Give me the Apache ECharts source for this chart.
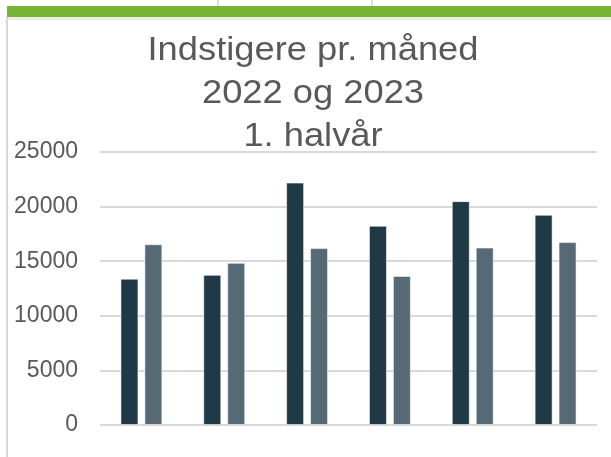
<!DOCTYPE html>
<html>
<head>
<meta charset="utf-8">
<script src="https://cdn.jsdelivr.net/npm/echarts@6/dist/echarts.min.js"></script>
<style>
  html, body { margin: 0; padding: 0; background: #fff; }
  #chart { width: 611px; height: 457px; }
</style>
</head>
<body>
<div id="chart"></div>
<script>
// Måneder (ingen etiketter vises i originalen)
const months = ['Januar', 'Februar', 'Marts', 'April', 'Maj', 'Juni'];
// Indstigere pr. måned
const values2022 = [13400, 13750, 22200, 18250, 20500, 19250];
const values2023 = [16550, 14850, 16200, 13650, 16250, 16750];
const yTicks = [0, 5000, 10000, 15000, 20000, 25000];
const titleText = 'Indstigere pr. måned\n2022 og 2023\n1. halvår';

const chart = echarts.init(document.getElementById('chart'));

const barBorder = { borderColor: 'rgba(255,255,255,0.55)', borderWidth: 1 };

chart.setOption({
    animation: false,
    backgroundColor: '#ffffff',
    grid: { left: 100, right: 14, top: 152, bottom: 32, containLabel: false },
    xAxis: {
        type: 'category',
        data: months,
        axisLine: { show: false },
        axisTick: { show: false },
        axisLabel: { show: false }
    },
    yAxis: {
        type: 'value',
        min: yTicks[0],
        max: yTicks[yTicks.length - 1],
        interval: 5000,
        axisLine: { show: false },
        axisTick: { show: false },
        axisLabel: {
            margin: 22,
            fontFamily: 'Liberation Sans',
            fontSize: 23,
            color: '#595959',
            formatter: v => String(v)
        },
        splitLine: { lineStyle: { color: '#d9d9d9', width: 2 } }
    },
    series: [
        {
            name: '2022',
            type: 'bar',
            data: values2022,
            barWidth: 18,
            barGap: '33%',
            itemStyle: Object.assign({ color: '#1f3a46' }, barBorder)
        },
        {
            name: '2023',
            type: 'bar',
            data: values2023,
            barWidth: 18,
            itemStyle: Object.assign({ color: '#566a75' }, barBorder)
        }
    ],
    graphic: [
        // ramme fra skærmbilledet: grøn bjælke øverst og grå kant til venstre
        { type: 'rect', shape: { x: 7, y: 6, width: 604, height: 11 }, style: { fill: '#77b535' } },
        { type: 'rect', shape: { x: 217, y: 0, width: 2, height: 6 }, style: { fill: '#d5e8c2' } },
        { type: 'rect', shape: { x: 371, y: 0, width: 2, height: 6 }, style: { fill: '#d5e8c2' } },
        { type: 'rect', shape: { x: 7, y: 17, width: 604, height: 3 }, style: { fill: '#ececec' } },
        { type: 'rect', shape: { x: 6, y: 17, width: 2, height: 440 }, style: { fill: '#d9d9d9' } },
        // titel (lidt bredt strakt i originalen)
        {
            type: 'text',
            x: 313,
            y: 29,
            scaleX: 1.1,
            z: 10,
            style: {
                text: titleText,
                textAlign: 'center',
                textVerticalAlign: 'top',
                fontFamily: 'Liberation Sans',
                fontSize: 33,
                lineHeight: 43,
                fill: '#595959'
            }
        }
    ]
});
</script>
</body>
</html>
